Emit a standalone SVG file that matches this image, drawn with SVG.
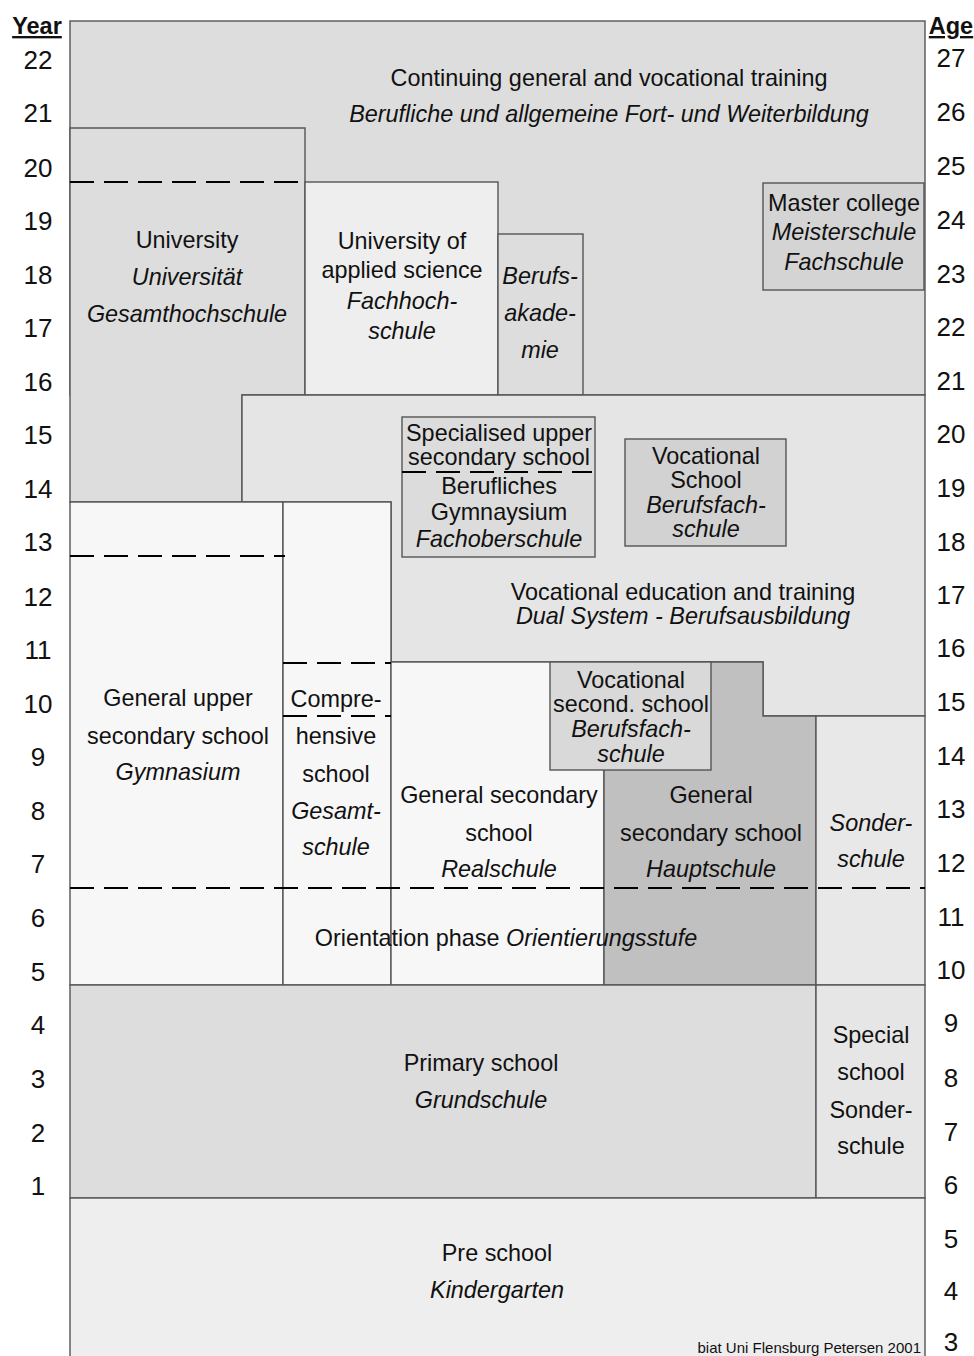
<svg xmlns="http://www.w3.org/2000/svg" width="974" height="1356" viewBox="0 0 974 1356">
  <style>
    text { font-family: "Liberation Sans", Arial, sans-serif; font-size: 23.4px; fill: #111; text-anchor: middle; }
    .it { font-style: italic; }
    .axis { font-size: 26px; }
    .head { font-size: 23.5px; font-weight: bold; text-decoration: underline; }
    .box { stroke: #555; stroke-width: 1.4; }
    .dash { stroke: #000; stroke-width: 2; stroke-dasharray: 24 10; fill: none; }
    .credit { font-size: 15px; text-anchor: end; }
  </style>

  <rect width="974" height="1356" fill="#fff"/>

  <!-- axis: school year on the left, age on the right -->
  <g id="axis-year">
    <text class="head" x="37" y="34">Year</text>
    <text class="axis" x="38" y="69">22</text>
    <text class="axis" x="38" y="122">21</text>
    <text class="axis" x="38" y="177">20</text>
    <text class="axis" x="38" y="230">19</text>
    <text class="axis" x="38" y="284">18</text>
    <text class="axis" x="38" y="337">17</text>
    <text class="axis" x="38" y="391">16</text>
    <text class="axis" x="38" y="444">15</text>
    <text class="axis" x="38" y="498">14</text>
    <text class="axis" x="38" y="551">13</text>
    <text class="axis" x="38" y="606">12</text>
    <text class="axis" x="38" y="659">11</text>
    <text class="axis" x="38" y="713">10</text>
    <text class="axis" x="38" y="766">9</text>
    <text class="axis" x="38" y="820">8</text>
    <text class="axis" x="38" y="873">7</text>
    <text class="axis" x="38" y="927">6</text>
    <text class="axis" x="38" y="981">5</text>
    <text class="axis" x="38" y="1034">4</text>
    <text class="axis" x="38" y="1088">3</text>
    <text class="axis" x="38" y="1142">2</text>
    <text class="axis" x="38" y="1195">1</text>
  </g>
  <g id="axis-age">
    <text class="head" x="951" y="34">Age</text>
    <text class="axis" x="951" y="67">27</text>
    <text class="axis" x="951" y="121">26</text>
    <text class="axis" x="951" y="175">25</text>
    <text class="axis" x="951" y="229">24</text>
    <text class="axis" x="951" y="283">23</text>
    <text class="axis" x="951" y="336">22</text>
    <text class="axis" x="951" y="390">21</text>
    <text class="axis" x="951" y="443">20</text>
    <text class="axis" x="951" y="497">19</text>
    <text class="axis" x="951" y="551">18</text>
    <text class="axis" x="951" y="604">17</text>
    <text class="axis" x="951" y="657">16</text>
    <text class="axis" x="951" y="711">15</text>
    <text class="axis" x="951" y="765">14</text>
    <text class="axis" x="951" y="818">13</text>
    <text class="axis" x="951" y="872">12</text>
    <text class="axis" x="951" y="926">11</text>
    <text class="axis" x="951" y="979">10</text>
    <text class="axis" x="951" y="1032">9</text>
    <text class="axis" x="951" y="1087">8</text>
    <text class="axis" x="951" y="1141">7</text>
    <text class="axis" x="951" y="1194">6</text>
    <text class="axis" x="951" y="1248">5</text>
    <text class="axis" x="951" y="1300">4</text>
    <text class="axis" x="951" y="1351">3</text>
  </g>

  <g id="continuing">
    <rect class="box" x="70" y="21" width="855" height="374" fill="#dddddd"/>
    <text x="609" y="86">Continuing general and vocational training</text>
    <text class="it" x="609" y="122">Berufliche und allgemeine Fort- und Weiterbildung</text>
  </g>

  <g id="university">
    <path class="box" d="M70 128 H305 V395 H242 V502 H70 Z" fill="#dddddd"/>
    <text x="187" y="248">University</text>
    <text class="it" x="187" y="285">Universität</text>
    <text class="it" x="187" y="322">Gesamthochschule</text>
  </g>

  <g id="fachhochschule">
    <rect class="box" x="305" y="182" width="193" height="213" fill="#eeeeee"/>
    <text x="402" y="249">University of</text>
    <text x="402" y="278">applied science</text>
    <text class="it" x="402" y="309">Fachhoch-</text>
    <text class="it" x="402" y="339">schule</text>
  </g>

  <g id="berufsakademie">
    <rect class="box" x="498" y="234" width="85" height="161" fill="#dddddd"/>
    <text class="it" x="540" y="284">Berufs-</text>
    <text class="it" x="540" y="321">akade-</text>
    <text class="it" x="540" y="358">mie</text>
  </g>

  <g id="master-college">
    <rect class="box" x="763" y="183" width="161" height="107" fill="#d4d4d4"/>
    <text x="844" y="211">Master college</text>
    <text class="it" x="844" y="240">Meisterschule</text>
    <text class="it" x="844" y="270">Fachschule</text>
  </g>

  <g id="dual-system">
    <path class="box" d="M242 395 H925 V716 H763 V662 H391 V502 H242 Z" fill="#e5e5e5"/>
    <text x="683" y="600">Vocational education and training</text>
    <text class="it" x="683" y="624">Dual System - Berufsausbildung</text>
  </g>

  <g id="fachoberschule">
    <rect class="box" x="402" y="417" width="193" height="140" fill="#dcdcdc"/>
    <text x="499" y="441">Specialised upper</text>
    <text x="499" y="465">secondary school</text>
    <text x="499" y="494">Berufliches</text>
    <text x="499" y="520">Gymnaysium</text>
    <text class="it" x="499" y="547">Fachoberschule</text>
  </g>

  <g id="vocational-school">
    <rect class="box" x="625" y="439" width="161" height="107" fill="#d2d2d2"/>
    <text x="706" y="464">Vocational</text>
    <text x="706" y="488">School</text>
    <text class="it" x="706" y="513">Berufsfach-</text>
    <text class="it" x="706" y="537">schule</text>
  </g>

  <g id="gymnasium">
    <rect class="box" x="70" y="502" width="213" height="483" fill="#f7f7f7"/>
    <text x="178" y="706">General upper</text>
    <text x="178" y="744">secondary school</text>
    <text class="it" x="178" y="780">Gymnasium</text>
  </g>

  <g id="gesamtschule">
    <rect class="box" x="283" y="502" width="108" height="483" fill="#f7f7f7"/>
    <text x="336" y="707">Compre-</text>
    <text x="336" y="744">hensive</text>
    <text x="336" y="782">school</text>
    <text class="it" x="336" y="819">Gesamt-</text>
    <text class="it" x="336" y="855">schule</text>
  </g>

  <g id="realschule">
    <rect class="box" x="391" y="662" width="213" height="323" fill="#f7f7f7"/>
    <text x="499" y="803">General secondary</text>
    <text x="499" y="841">school</text>
    <text class="it" x="499" y="877">Realschule</text>
  </g>

  <g id="hauptschule">
    <path class="box" d="M604 662 H763 V716 H816 V985 H604 Z" fill="#c0c0c0"/>
    <text x="711" y="803">General</text>
    <text x="711" y="841">secondary school</text>
    <text class="it" x="711" y="877">Hauptschule</text>
  </g>

  <g id="berufsfachschule">
    <rect class="box" x="550" y="662" width="161" height="108" fill="#d9d9d9"/>
    <text x="631" y="688">Vocational</text>
    <text x="631" y="712">second. school</text>
    <text class="it" x="631" y="737">Berufsfach-</text>
    <text class="it" x="631" y="762">schule</text>
  </g>

  <g id="sonderschule">
    <rect class="box" x="816" y="716" width="109" height="269" fill="#e8e8e8"/>
    <text class="it" x="871" y="831">Sonder-</text>
    <text class="it" x="871" y="867">schule</text>
  </g>

  <g id="orientation">
    <text x="506" y="946">Orientation phase <tspan class="it">Orientierungsstufe</tspan></text>
  </g>

  <g id="primary">
    <rect class="box" x="70" y="985" width="746" height="213" fill="#dddddd"/>
    <text x="481" y="1071">Primary school</text>
    <text class="it" x="481" y="1108">Grundschule</text>
  </g>

  <g id="special-school">
    <rect class="box" x="816" y="985" width="109" height="213" fill="#e6e6e6"/>
    <text x="871" y="1043">Special</text>
    <text x="871" y="1080">school</text>
    <text x="871" y="1118">Sonder-</text>
    <text x="871" y="1154">schule</text>
  </g>

  <g id="preschool">
    <rect class="box" x="70" y="1198" width="855" height="170" fill="#eeeeee"/>
    <text x="497" y="1261">Pre school</text>
    <text class="it" x="497" y="1298">Kindergarten</text>
    <text class="credit" x="921" y="1353">biat Uni Flensburg Petersen 2001</text>
  </g>

  <!-- dashed stage dividers -->
  <g id="dividers">
    <line class="dash" x1="70" y1="182" x2="305" y2="182"/>
    <line class="dash" x1="402" y1="472" x2="592" y2="472"/>
    <line class="dash" x1="70" y1="556" x2="285" y2="556"/>
    <line class="dash" x1="283" y1="663" x2="391" y2="663"/>
    <line class="dash" x1="283" y1="716" x2="391" y2="716"/>
    <line class="dash" x1="70" y1="888" x2="925" y2="888"/>
  </g>
</svg>
